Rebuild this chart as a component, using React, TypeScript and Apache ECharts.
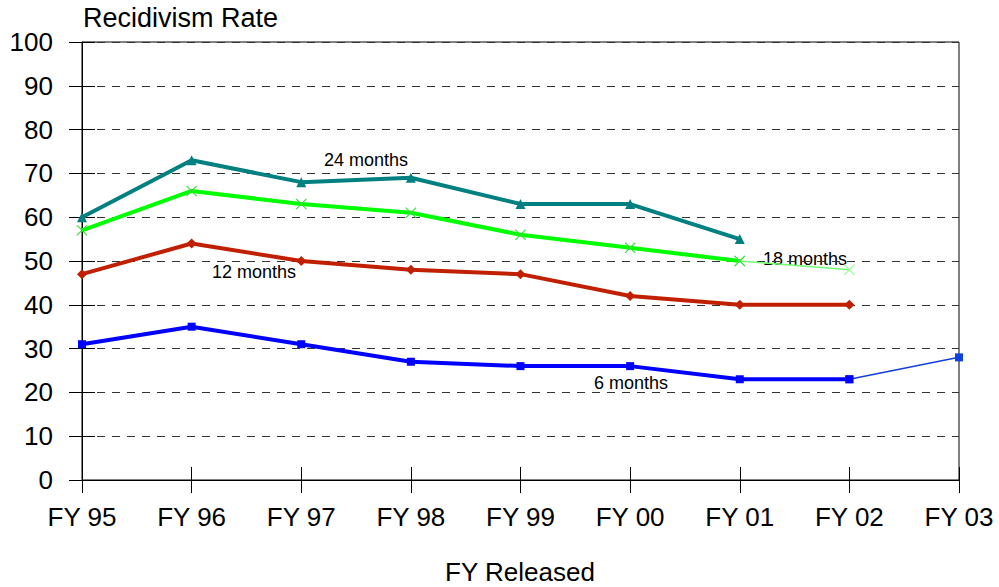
import React, { useEffect, useRef } from "react";
import * as echarts from "echarts";

const categories = ["FY 95", "FY 96", "FY 97", "FY 98", "FY 99", "FY 00", "FY 01", "FY 02", "FY 03"];
const sixMonths = [31, 35, 31, 27, 26, 26, 23, 23, null];
const sixMonthsExt = [null, null, null, null, null, null, null, 23, 28];
const twelveMonths = [47, 54, 50, 48, 47, 42, 40, 40, null];
const eighteenMonths = [57, 66, 63, 61, 56, 53, 50, null, null];
const eighteenMonthsExt = [null, null, null, null, null, null, 50, 48, null];
const twentyFourMonths = [60, 73, 68, 69, 63, 63, 55, null, null];

const FONT = "Liberation Sans";
const X_SYMBOL = "path://M0,0.7L0.7,0L5,4.3L9.3,0L10,0.7L5.7,5L10,9.3L9.3,10L5,5.7L0.7,10L0,9.3L4.3,5Z";

export default function App() {
  const ref = useRef<HTMLDivElement>(null);
  useEffect(() => {
    const chart = echarts.init(ref.current!, null, { renderer: "svg" });
    const textStyle = { fontFamily: FONT, color: "#000" };
    chart.setOption({
      animation: false,
      backgroundColor: "#fff",
      grid: { left: 82, top: 42, right: 40, bottom: 107, show: true, borderColor: "#000", borderWidth: 1 },
      xAxis: [
        {
          type: "category",
          data: categories,
          boundaryGap: false,
          axisLine: { lineStyle: { color: "#000", width: 1 } },
          axisTick: { show: true, inside: false, length: 13, lineStyle: { color: "#000" } },
          axisLabel: { ...textStyle, fontSize: 26, margin: 24, interval: 0 },
          splitLine: { show: false },
        },
        {
          type: "category",
          data: categories,
          boundaryGap: false,
          position: "bottom",
          axisLine: { show: false },
          axisTick: { show: true, inside: true, length: 13, lineStyle: { color: "#000" } },
          axisLabel: { show: false },
          splitLine: { show: false },
        },
      ],
      yAxis: [
        {
          type: "value",
          min: 0,
          max: 100,
          interval: 10,
          axisLine: { show: true, lineStyle: { color: "#000", width: 1 } },
          axisTick: { show: true, inside: false, length: 13, lineStyle: { color: "#000" } },
          axisLabel: { ...textStyle, fontSize: 26, margin: 29 },
          splitLine: { show: true, lineStyle: { color: "#333", type: [8, 7], width: 1 } },
        },
        {
          type: "value",
          min: 0,
          max: 100,
          interval: 10,
          position: "left",
          offset: 0,
          axisLine: { show: false },
          axisTick: { show: true, inside: true, length: 13, lineStyle: { color: "#000" } },
          axisLabel: { show: false },
          splitLine: { show: false },
        },
      ],
      series: [
        {
          name: "6 months ext",
          type: "line",
          data: sixMonthsExt,
          symbol: "rect",
          symbolSize: 8,
          lineStyle: { color: "#1040E0", width: 1.5 },
          itemStyle: { color: "#1040E0" },
        },
        {
          name: "18 months ext",
          type: "line",
          data: eighteenMonthsExt,
          symbol: X_SYMBOL,
          symbolSize: 11,
          lineStyle: { color: "#70FF70", width: 1.5 },
          itemStyle: { color: "#90FF90" },
        },
        {
          name: "6 months",
          type: "line",
          data: sixMonths,
          symbol: "rect",
          symbolSize: 8,
          lineStyle: { color: "#0000FF", width: 4 },
          itemStyle: { color: "#0000FF" },
        },
        {
          name: "12 months",
          type: "line",
          data: twelveMonths,
          symbol: "diamond",
          symbolSize: 10,
          lineStyle: { color: "#C02000", width: 4 },
          itemStyle: { color: "#C02000" },
        },
        {
          name: "18 months",
          type: "line",
          data: eighteenMonths,
          symbol: X_SYMBOL,
          symbolSize: 11,
          lineStyle: { color: "#00FF00", width: 4 },
          itemStyle: { color: "#33DD33" },
        },
        {
          name: "24 months",
          type: "line",
          data: twentyFourMonths,
          symbol: "triangle",
          symbolSize: 10,
          lineStyle: { color: "#008080", width: 4 },
          itemStyle: { color: "#008080" },
        },
      ],
      graphic: [
        { type: "text", left: 83, top: 4, style: { text: "Recidivism Rate", font: `27px "${FONT}"`, fill: "#000" } },
        { type: "text", x: 520, y: 572, style: { text: "FY Released", font: `26px "${FONT}"`, fill: "#000", align: "center", verticalAlign: "middle" } },
        { type: "text", x: 366, y: 160, style: { text: "24 months", font: `18px "${FONT}"`, fill: "#000", align: "center", verticalAlign: "middle" } },
        { type: "text", x: 805, y: 259, style: { text: "18 months", font: `18px "${FONT}"`, fill: "#000", align: "center", verticalAlign: "middle" } },
        { type: "text", x: 254, y: 272, style: { text: "12 months", font: `18px "${FONT}"`, fill: "#000", align: "center", verticalAlign: "middle" } },
        { type: "text", x: 631, y: 383, style: { text: "6 months", font: `18px "${FONT}"`, fill: "#000", align: "center", verticalAlign: "middle" } },
      ],
    });
    return () => chart.dispose();
  }, []);
  return <div ref={ref} style={{ position: "absolute", left: 0, top: 0, width: 999, height: 587 }} />;
}
